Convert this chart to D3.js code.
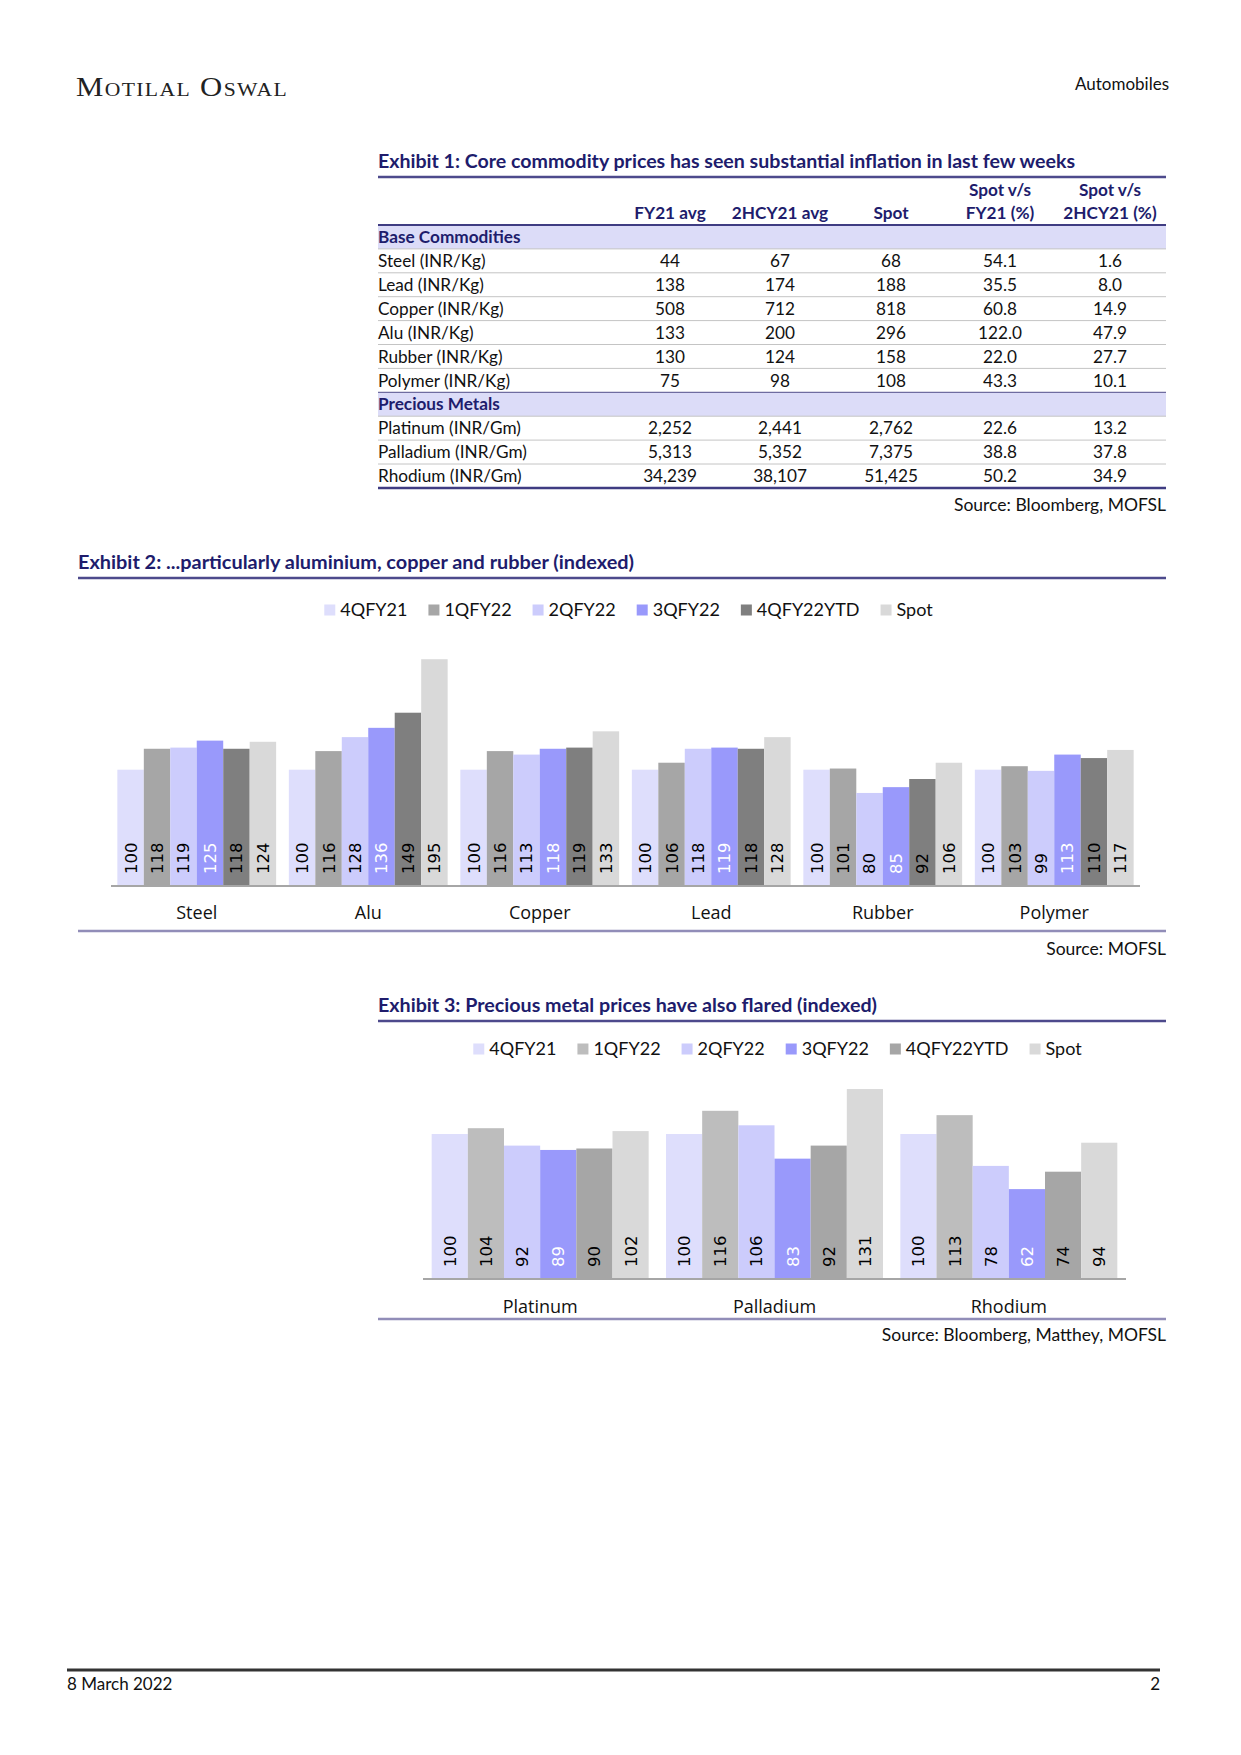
<!DOCTYPE html>
<html><head><meta charset="utf-8">
<script src="https://cdn.jsdelivr.net/npm/d3@7"></script>
<style>body{margin:0;background:#fff}</style>
</head><body><svg id="page" width="1241" height="1755"></svg>
<script>
// ---------- DATA ----------
const tableHeadTop = ["", "", "", "Spot v/s", "Spot v/s"];
const tableHeadBottom = ["FY21 avg", "2HCY21 avg", "Spot", "FY21 (%)", "2HCY21 (%)"];
const baseSection = "Base Commodities";
const baseRows = ["Steel (INR/Kg)", "Lead (INR/Kg)", "Copper (INR/Kg)", "Alu (INR/Kg)", "Rubber (INR/Kg)", "Polymer (INR/Kg)"];
const baseFY21 = ["44", "138", "508", "133", "130", "75"];
const baseHCY21 = ["67", "174", "712", "200", "124", "98"];
const baseSpot = ["68", "188", "818", "296", "158", "108"];
const baseVsFY21 = ["54.1", "35.5", "60.8", "122.0", "22.0", "43.3"];
const baseVsHCY21 = ["1.6", "8.0", "14.9", "47.9", "27.7", "10.1"];
const preciousSection = "Precious Metals";
const preciousRows = ["Platinum (INR/Gm)", "Palladium (INR/Gm)", "Rhodium (INR/Gm)"];
const preciousFY21 = ["2,252", "5,313", "34,239"];
const preciousHCY21 = ["2,441", "5,352", "38,107"];
const preciousSpot = ["2,762", "7,375", "51,425"];
const preciousVsFY21 = ["22.6", "38.8", "50.2"];
const preciousVsHCY21 = ["13.2", "37.8", "34.9"];

const seriesNames = ["4QFY21", "1QFY22", "2QFY22", "3QFY22", "4QFY22YTD", "Spot"];

const ex2Categories = ["Steel", "Alu", "Copper", "Lead", "Rubber", "Polymer"];
const ex2_4QFY21 = [100, 100, 100, 100, 100, 100];
const ex2_1QFY22 = [118, 116, 116, 106, 101, 103];
const ex2_2QFY22 = [119, 128, 113, 118, 80, 99];
const ex2_3QFY22 = [125, 136, 118, 119, 85, 113];
const ex2_4QFY22YTD = [118, 149, 119, 118, 92, 110];
const ex2_Spot = [124, 195, 133, 128, 106, 117];

const ex3Categories = ["Platinum", "Palladium", "Rhodium"];
const ex3_4QFY21 = [100, 100, 100];
const ex3_1QFY22 = [104, 116, 113];
const ex3_2QFY22 = [92, 106, 78];
const ex3_3QFY22 = [89, 83, 62];
const ex3_4QFY22YTD = [90, 92, 74];
const ex3_Spot = [102, 131, 94];

// ---------- STYLE ----------
const NAVY = "#201c6c";
const FONT = "Lato, 'Open Sans', sans-serif";
const ex2Colors = ["#dedefc", "#a6a6a6", "#ccccfc", "#9999fb", "#7f7f7f", "#d9d9d9"];
const ex3Colors = ["#dedefc", "#bdbdbd", "#ccccfc", "#9999fb", "#a6a6a6", "#d9d9d9"];
const labelColors = ["#000", "#000", "#000", "#fff", "#000", "#000"];

const svg = d3.select("#page");

// ---------- HEADER / FOOTER ----------
svg.append("text").attr("x", 76).attr("y", 96)
  .attr("font-family", "'Liberation Serif', serif").attr("font-size", 27)
  .attr("font-variant", "small-caps").attr("letter-spacing", 1.2)
  .attr("fill", "#222").attr("textLength", 212).attr("lengthAdjust", "spacingAndGlyphs")
  .text("Motilal Oswal");
svg.append("text").attr("x", 1169).attr("y", 90).attr("text-anchor", "end")
  .attr("font-family", FONT).attr("font-size", 17).attr("fill", "#111").text("Automobiles");

svg.append("line").attr("x1", 67).attr("x2", 1160).attr("y1", 1670).attr("y2", 1670)
  .attr("stroke", "#333").attr("stroke-width", 3);
svg.append("text").attr("x", 67).attr("y", 1690).attr("font-family", FONT).attr("font-size", 17)
  .attr("fill", "#111").text("8 March 2022");
svg.append("text").attr("x", 1160).attr("y", 1690).attr("text-anchor", "end").attr("font-family", FONT)
  .attr("font-size", 17).attr("fill", "#111").text("2");

function title(x, y, x2, txt, width) {
  svg.append("text").attr("x", x).attr("y", y).attr("font-family", FONT).attr("font-weight", "bold")
    .attr("font-size", 18).attr("fill", NAVY).attr("textLength", width)
    .attr("lengthAdjust", "spacingAndGlyphs").text(txt);
  svg.append("line").attr("x1", x).attr("x2", x2).attr("y1", y + 9).attr("y2", y + 9)
    .attr("stroke", "#4d4a8c").attr("stroke-width", 2.5);
}
function source(y, txt) {
  svg.append("text").attr("x", 1166).attr("y", y).attr("text-anchor", "end")
    .attr("font-family", FONT).attr("font-size", 17.5).attr("fill", "#111").text(txt);
}

// ---------- EXHIBIT 1: TABLE ----------
title(378, 168, 1166, "Exhibit 1: Core commodity prices has seen substantial inflation in last few weeks", 697);

const colX = [670, 780, 891, 1000, 1110];
const tL = 378, tR = 1166, rowH = 23.9, tTop = 225;
const tg = svg.append("g").attr("font-family", FONT).attr("font-size", 17.2);

tg.selectAll("text.h1").data(tableHeadTop).join("text")
  .attr("x", (d, i) => colX[i]).attr("y", 196).attr("text-anchor", "middle")
  .attr("font-weight", "bold").attr("fill", NAVY).text(d => d);
tg.selectAll("text.h2").data(tableHeadBottom).join("text").attr("class", "h2")
  .attr("x", (d, i) => colX[i]).attr("y", 219).attr("text-anchor", "middle")
  .attr("font-weight", "bold").attr("fill", NAVY).text(d => d);

const rows = [];
rows.push({ section: baseSection });
baseRows.forEach((n, i) => rows.push({ name: n, vals: [baseFY21[i], baseHCY21[i], baseSpot[i], baseVsFY21[i], baseVsHCY21[i]] }));
rows.push({ section: preciousSection });
preciousRows.forEach((n, i) => rows.push({ name: n, vals: [preciousFY21[i], preciousHCY21[i], preciousSpot[i], preciousVsFY21[i], preciousVsHCY21[i]] }));

rows.forEach((r, i) => {
  const y0 = tTop + i * rowH, cy = y0 + rowH / 2;
  if (r.section) {
    tg.append("rect").attr("x", tL).attr("y", y0).attr("width", tR - tL).attr("height", rowH).attr("fill", "#dcdcf8");
    tg.append("text").attr("x", tL).attr("y", cy).attr("dy", "0.36em").attr("font-weight", "bold")
      .attr("fill", NAVY).text(r.section);
  } else {
    tg.append("text").attr("x", tL).attr("y", cy).attr("dy", "0.36em").attr("fill", "#111").text(r.name);
    r.vals.forEach((v, j) => tg.append("text").attr("x", colX[j]).attr("y", cy).attr("dy", "0.36em")
      .attr("text-anchor", "middle").attr("fill", "#111").text(v));
  }
  if (i > 0) {
    const sec = r.section;
    tg.append("line").attr("x1", tL).attr("x2", tR).attr("y1", y0).attr("y2", y0)
      .attr("stroke", sec ? "#6f6ca0" : "#c4c4c4").attr("stroke-width", sec ? 1.2 : 1);
  }
});
tg.append("line").attr("x1", tL).attr("x2", tR).attr("y1", tTop).attr("y2", tTop).attr("stroke", "#3f3c82").attr("stroke-width", 2);
tg.append("line").attr("x1", tL).attr("x2", tR).attr("y1", tTop + rows.length * rowH).attr("y2", tTop + rows.length * rowH)
  .attr("stroke", "#3f3c82").attr("stroke-width", 2.5);
source(511, "Source: Bloomberg, MOFSL");

// ---------- BAR CHART ----------
function barChart(cfg) {
  const { cats, series, colors, x0r, yAxis, pxPerUnit, legendY, catY, bottomY, bottomX1 } = cfg;
  const g = svg.append("g");
  const x0 = d3.scaleBand().domain(cats).range(x0r).padding(0);
  const x1 = d3.scaleBand().domain(seriesNames).range([0, x0.bandwidth()]).paddingInner(0).paddingOuter(0.24);
  const y = d3.scaleLinear().domain([0, 200]).range([yAxis, yAxis - 200 * pxPerUnit]);

  const grp = g.selectAll("g.cat").data(cats).join("g").attr("transform", d => `translate(${x0(d)},0)`);
  grp.selectAll("rect").data((c, ci) => seriesNames.map((s, si) => ({ s, si, v: series[si][ci] }))).join("rect")
    .attr("x", d => x1(d.s)).attr("width", x1.bandwidth())
    .attr("y", d => y(d.v)).attr("height", d => yAxis - y(d.v)).attr("fill", d => colors[d.si]);
  grp.selectAll("text").data((c, ci) => seriesNames.map((s, si) => ({ s, si, v: series[si][ci] }))).join("text")
    .attr("transform", d => `translate(${x1(d.s) + x1.bandwidth() / 2},${yAxis - 12}) rotate(-90)`)
    .attr("dy", "0.36em").attr("font-family", "'DejaVu Sans', sans-serif").attr("font-size", 16.5)
    .attr("fill", d => labelColors[d.si]).text(d => d.v);

  // axis line
  g.append("line").attr("x1", x0r[0]).attr("x2", x0r[1]).attr("y1", yAxis).attr("y2", yAxis)
    .attr("stroke", "#a6a6a6").attr("stroke-width", 2);
  // category labels via axis
  const ax = g.append("g").attr("transform", `translate(0,${catY})`)
    .call(d3.axisBottom(x0).tickSize(0).tickPadding(0));
  ax.select(".domain").remove();
  ax.selectAll("text").attr("font-family", "'Open Sans', sans-serif").attr("font-size", 18)
    .attr("fill", "#111").attr("dy", "0.36em").attr("y", 0);

  // legend
  const lg = g.append("g").attr("font-family", FONT).attr("font-size", 18);
  let cx = 0;
  seriesNames.forEach((s, i) => {
    const it = lg.append("g");
    it.append("rect").attr("x", 0).attr("y", -5.5).attr("width", 11).attr("height", 11).attr("fill", colors[i]);
    const t = it.append("text").attr("x", 16).attr("y", 0).attr("dy", "0.36em").attr("fill", "#111").text(s);
    const w = 16 + t.node().getComputedTextLength();
    it.attr("transform", `translate(${cx},${legendY})`);
    cx += w + 21;
  });
  const totalW = cx - 21;
  const center = (x0r[0] + x0r[1]) / 2 + 3;
  lg.attr("transform", `translate(${center - totalW / 2},0)`);

  g.append("line").attr("x1", bottomX1).attr("x2", 1166).attr("y1", bottomY).attr("y2", bottomY)
    .attr("stroke", "#918db8").attr("stroke-width", 2.5);
}

// ---------- EXHIBIT 2 ----------
title(78, 569, 1166, "Exhibit 2: ...particularly aluminium, copper and rubber (indexed)", 556);
barChart({
  cats: ex2Categories,
  series: [ex2_4QFY21, ex2_1QFY22, ex2_2QFY22, ex2_3QFY22, ex2_4QFY22YTD, ex2_Spot],
  colors: ex2Colors, x0r: [111, 1140], yAxis: 886, pxPerUnit: 1.163,
  legendY: 610, catY: 913, bottomY: 931, bottomX1: 78
});
source(955, "Source: MOFSL");

// ---------- EXHIBIT 3 ----------
title(378, 1012, 1166, "Exhibit 3: Precious metal prices have also flared (indexed)", 499);
barChart({
  cats: ex3Categories,
  series: [ex3_4QFY21, ex3_1QFY22, ex3_2QFY22, ex3_3QFY22, ex3_4QFY22YTD, ex3_Spot],
  colors: ex3Colors, x0r: [423, 1126], yAxis: 1279, pxPerUnit: 1.45,
  legendY: 1049, catY: 1307, bottomY: 1319, bottomX1: 378
});
source(1341, "Source: Bloomberg, Matthey, MOFSL");
</script></body></html>
